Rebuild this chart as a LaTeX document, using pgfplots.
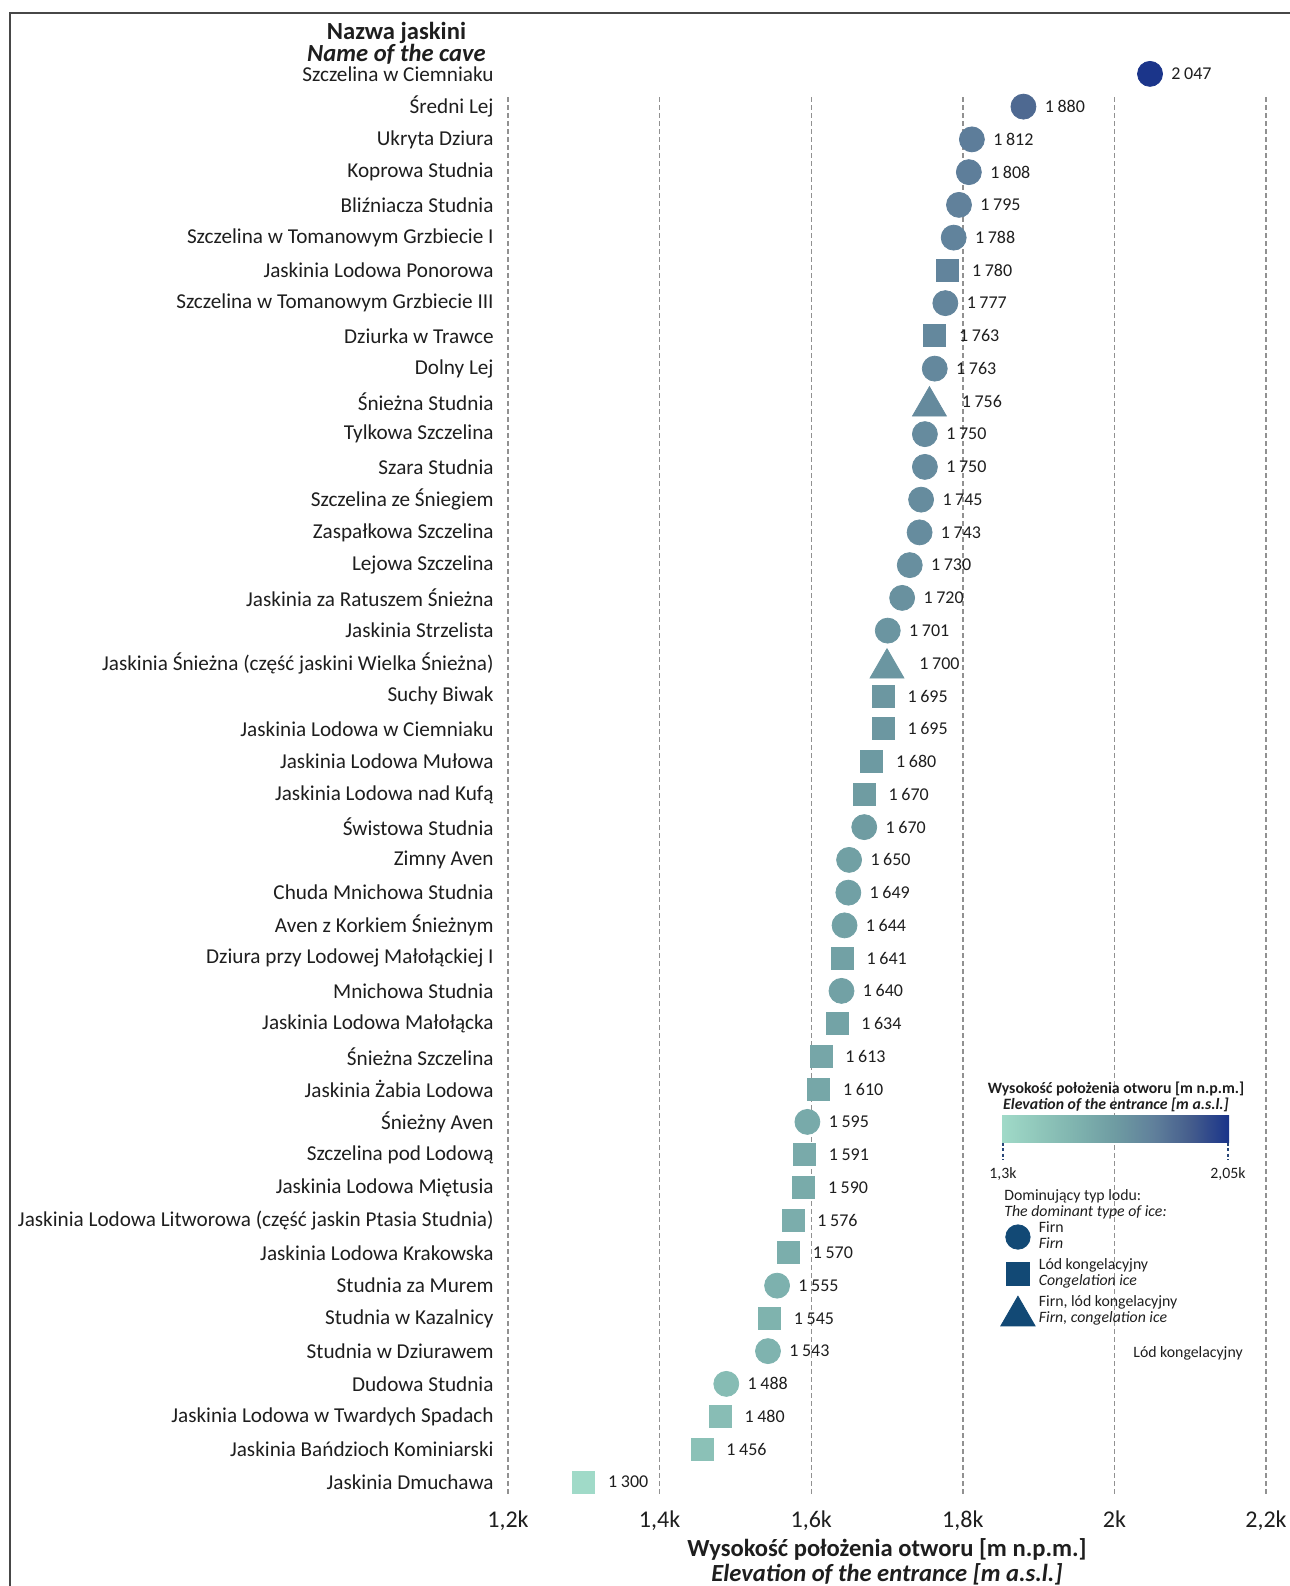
\documentclass[border=0pt]{standalone}
\usepackage{fontspec}
\setmainfont{Carlito}
\usepackage{pgfplots}
\pgfplotsset{compat=1.18}
\usepackage{pgfplotstable}

\definecolor{txt}{RGB}{30,30,30}
\definecolor{gridc}{RGB}{145,145,145}
\definecolor{legblue}{RGB}{18,73,117}
\definecolor{cbt}{RGB}{40,70,120}
\definecolor{cm0}{RGB}{160,218,200}
\definecolor{cm1}{RGB}{143,198,186}
\definecolor{cm2}{RGB}{126,178,174}
\definecolor{cm3}{RGB}{110,155,162}
\definecolor{cm4}{RGB}{96,128,155}
\definecolor{cm5}{RGB}{68,92,140}
\definecolor{cm6}{RGB}{26,52,138}

\pgfplotsset{colormap={cave}{rgb255=(160,218,200) rgb255=(143,198,186) rgb255=(126,178,174) rgb255=(110,155,162) rgb255=(96,128,155) rgb255=(68,92,140) rgb255=(26,52,138)}}
\pgfplotsset{legend image code/.code={\draw[#1] plot coordinates {(0pt,0pt)};}}

\pgfdeclarehorizontalshading{cbar}{100bp}{color(0bp)=(cm0); color(25bp)=(cm0); color(33.33bp)=(cm1); color(41.67bp)=(cm2); color(50bp)=(cm3); color(58.33bp)=(cm4); color(66.67bp)=(cm5); color(75bp)=(cm6); color(100bp)=(cm6)}

\newcommand{\leg}[2]{\begin{tabular}{@{}l@{}}#1\\\textit{#2}\end{tabular}}
\newcommand{\vlab}{\pgfmathprintnumber[fixed, precision=0, 1000 sep={\hspace{0.2em}}, assume math mode=true]{\pgfplotspointmeta}}

\pgfplotstableread{
x y
2047 0
1880 1
1812 2
1808 3
1795 4
1788 5
1777 7
1763 9
1750 11
1750 12
1745 13
1743 14
1730 15
1720 16
1701 17
1670 23
1650 24
1649 25
1644 26
1640 28
1595 32
1555 37
1543 39
1488 40
}\circles
\pgfplotstableread{
x y
1780 6
1763 8
1695 19
1695 20
1680 21
1670 22
1641 27
1634 29
1613 30
1610 31
1591 33
1590 34
1576 35
1570 36
1545 38
1480 41
1456 42
1300 43
}\squares
\pgfplotstableread{
x y
1756 10
1700 18
}\triangles

\begin{document}
\begin{tikzpicture}
\useasboundingbox (0,0) rectangle (645pt,793pt);
\begin{axis}[
  at={(254pt,43.75pt)}, anchor=south west,
  width=379pt, height=720.5pt, scale only axis,
  xmin=1200, xmax=2200, ymin=-0.5, ymax=43.5, y dir=reverse,
  axis line style={draw=none}, major tick length=0pt,
  xtick={1200,1400,1600,1800,2000,2200},
  xticklabels={{1,2k},{1,4k},{1,6k},{1,8k},{2k},{2,2k}},
  ytick={0,...,43},
  yticklabels={{Szczelina w Ciemniaku},{Średni Lej},{Ukryta Dziura},{Koprowa Studnia},{Bliźniacza Studnia},{Szczelina w Tomanowym Grzbiecie I},{Jaskinia Lodowa Ponorowa},{Szczelina w Tomanowym Grzbiecie III},{Dziurka w Trawce},{Dolny Lej},{Śnieżna Studnia},{Tylkowa Szczelina},{Szara Studnia},{Szczelina ze Śniegiem},{Zaspałkowa Szczelina},{Lejowa Szczelina},{Jaskinia za Ratuszem Śnieżna},{Jaskinia Strzelista},{Jaskinia Śnieżna (część jaskini Wielka Śnieżna)},{Suchy Biwak},{Jaskinia Lodowa w Ciemniaku},{Jaskinia Lodowa Mułowa},{Jaskinia Lodowa nad Kufą},{Świstowa Studnia},{Zimny Aven},{Chuda Mnichowa Studnia},{Aven z Korkiem Śnieżnym},{Dziura przy Lodowej Małołąckiej I},{Mnichowa Studnia},{Jaskinia Lodowa Małołącka},{Śnieżna Szczelina},{Jaskinia Żabia Lodowa},{Śnieżny Aven},{Szczelina pod Lodową},{Jaskinia Lodowa Miętusia},{Jaskinia Lodowa Litworowa (część jaskin Ptasia Studnia)},{Jaskinia Lodowa Krakowska},{Studnia za Murem},{Studnia w Kazalnicy},{Studnia w Dziurawem},{Dudowa Studnia},{Jaskinia Lodowa w Twardych Spadach},{Jaskinia Bańdzioch Kominiarski},{Jaskinia Dmuchawa}},
  xticklabel style={font=\fontsize{12}{14}\selectfont, text=txt, inner sep=0pt, anchor=north, yshift=-6pt},
  yticklabel style={font=\fontsize{10.6}{12.5}\selectfont, text=txt, inner sep=0pt, anchor=east, xshift=-7pt},
  clip=false,
  colormap name=cave, point meta min=1300, point meta max=2050,
  legend cell align=left,
  legend style={at={(0.65013,0.19292)}, anchor=north west, draw=none, fill=none,
    inner sep=0pt, outer sep=0pt, row sep=2pt,
    font=\fontsize{7.9}{8.25}\selectfont, text=txt,
    nodes={inner sep=0pt, text depth=},
    /tikz/every odd column/.append style={column sep=1.9pt}},
]
% grid lines
\draw[gridc, line width=0.7pt, dash pattern=on 2.2pt off 1.8pt] (axis cs:1200,0.72) -- (axis cs:1200,43.4);
\draw[gridc, line width=0.7pt, dash pattern=on 2.2pt off 1.8pt] (axis cs:1400,0.72) -- (axis cs:1400,43.4);
\draw[gridc, line width=0.7pt, dash pattern=on 2.2pt off 1.8pt] (axis cs:1600,0.72) -- (axis cs:1600,43.4);
\draw[gridc, line width=0.7pt, dash pattern=on 2.2pt off 1.8pt] (axis cs:1800,0.72) -- (axis cs:1800,43.4);
\draw[gridc, line width=0.7pt, dash pattern=on 2.2pt off 1.8pt] (axis cs:2000,0.72) -- (axis cs:2000,43.4);
\draw[gridc, line width=0.7pt, dash pattern=on 2.2pt off 1.8pt] (axis cs:2200,0.72) -- (axis cs:2200,43.4);

\addplot[scatter, only marks, mark=*, mark size=6.25pt, scatter src=x,
  scatter/use mapped color={draw=mapped color, fill=mapped color},
  nodes near coords*={\vlab},
  every node near coord/.append style={anchor=west, inner sep=0pt, xshift=10.5pt, font=\fontsize{9}{10}\selectfont, text=txt},
  forget plot] table[x=x, y=y] {\circles};
\addplot[scatter, only marks, mark=square*, mark size=5.5pt, scatter src=x,
  scatter/use mapped color={draw=mapped color, fill=mapped color},
  nodes near coords*={\vlab},
  every node near coord/.append style={anchor=west, inner sep=0pt, xshift=12pt, font=\fontsize{9}{10}\selectfont, text=txt},
  forget plot] table[x=x, y=y] {\squares};
\addplot[scatter, only marks, mark=triangle*, mark size=9.8pt, mark options={yshift=-2.45pt}, scatter src=x,
  scatter/use mapped color={draw=mapped color, fill=mapped color},
  nodes near coords*={\vlab},
  every node near coord/.append style={anchor=west, inner sep=0pt, xshift=16pt, font=\fontsize{9}{10}\selectfont, text=txt},
  forget plot] table[x=x, y=y] {\triangles};

\addlegendimage{mark=*, mark size=6.1pt, color=legblue}
\addlegendentry{\leg{Firn}{Firn}}
\addlegendimage{mark=square*, mark size=5.6pt, color=legblue}
\addlegendentry{\leg{Lód kongelacyjny}{Congelation ice}}
\addlegendimage{mark=triangle*, mark size=9.9pt, mark options={yshift=-2.5pt}, color=legblue}
\addlegendentry{\leg{Firn, lód kongelacyjny}{Firn, congelation ice}}
\end{axis}

% frame
\draw[black!72, line width=0.8pt] (5pt,0pt) -- (5pt,786.5pt) -- (645pt,786.5pt);

% titles
\node[anchor=mid, inner sep=0pt, text=txt, font=\fontsize{12.3}{14}\selectfont\bfseries] at (198.25pt,775.8pt) {Nazwa jaskini};
\node[anchor=mid, inner sep=0pt, text=txt, font=\fontsize{12.3}{14}\selectfont\bfseries\itshape] at (198.25pt,764.5pt) {Name of the cave};
\node[anchor=mid, inner sep=0pt, text=txt, font=\fontsize{12.3}{14}\selectfont\bfseries] at (443.5pt,17pt) {Wysokość położenia otworu [m n.p.m.]};
\node[anchor=mid, inner sep=0pt, text=txt, font=\fontsize{12.3}{14}\selectfont\bfseries\itshape] at (443.5pt,4.5pt) {Elevation of the entrance [m a.s.l.]};

% colour legend
\node[anchor=mid, inner sep=0pt, text=txt, font=\fontsize{7.9}{9}\selectfont\bfseries] at (558pt,248.5pt) {Wysokość położenia otworu [m n.p.m.]};
\node[anchor=mid, inner sep=0pt, text=txt, font=\fontsize{7.9}{9}\selectfont\bfseries\itshape] at (558pt,240.5pt) {Elevation of the entrance [m a.s.l.]};
\shade[shading=cbar] (501pt,221.5pt) rectangle (614.5pt,235pt);
\draw[cbt, line width=0.7pt, dash pattern=on 1.5pt off 1.2pt] (501.5pt,221.5pt) -- (501.5pt,213pt);
\draw[cbt, line width=0.7pt, dash pattern=on 1.5pt off 1.2pt] (614pt,221.5pt) -- (614pt,213pt);
\node[anchor=mid, inner sep=0pt, text=txt, font=\fontsize{7.9}{9}\selectfont] at (501.5pt,206pt) {1,3k};
\node[anchor=mid, inner sep=0pt, text=txt, font=\fontsize{7.9}{9}\selectfont] at (614pt,206pt) {2,05k};
\node[anchor=mid west, inner sep=0pt, text=txt, font=\fontsize{7.9}{9}\selectfont] at (502pt,195pt) {Dominujący typ lodu:};
\node[anchor=mid west, inner sep=0pt, text=txt, font=\fontsize{7.9}{9}\selectfont\itshape] at (502pt,187pt) {The dominant type of ice:};
\node[anchor=mid west, inner sep=0pt, text=txt, font=\fontsize{7.9}{9}\selectfont] at (566.5pt,116.5pt) {Lód kongelacyjny};
\end{tikzpicture}
\end{document}
